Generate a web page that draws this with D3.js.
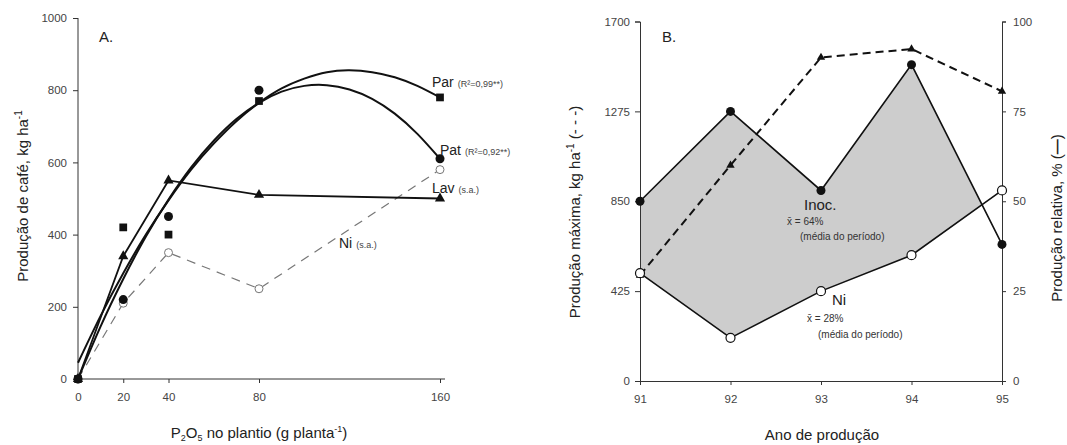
<!DOCTYPE html>
<html><head><meta charset="utf-8">
<script src="https://cdn.jsdelivr.net/npm/d3@7"></script>
<style>
body{margin:0;background:#fff;}
svg{display:block;font-family:"Liberation Sans",Arial,sans-serif;}
.tick text{fill:#444;font-size:11.5px;}
.domain,.tick line{stroke:#333;}
</style></head>
<body><svg id="c" width="1067" height="445"></svg>
<script>
// ---------- Panel A data ----------
const doses = [0, 20, 40, 80, 160];
const parObs = [0, 420, 400, 770, 780];
const patObs = [0, 220, 450, 800, 610];
const lavObs = [0, 340, 550, 510, 500];
const niObs  = [0, 210, 350, 250, 580];
// fitted curves
const fitX   = [0, 10, 20, 30, 40, 50, 60, 70, 80, 90, 100, 110, 120, 130, 140, 150, 160];
const parFit = [45, 175, 293, 400, 495, 580, 652, 714, 765, 805, 832, 850, 855, 850, 836, 812, 780];
const patFit = [0, 146, 277, 395, 497, 586, 660, 720, 765, 796, 812, 814, 802, 776, 735, 679, 610];
const xTicksA = [0, 20, 40, 80, 160];
const yTicksA = [0, 200, 400, 600, 800, 1000];

// ---------- Panel B data ----------
const years   = [91, 92, 93, 94, 95];
const prodMax = [500, 1020, 1530, 1570, 1370]; // kg/ha, left axis (dashed)
const inocRel = [50, 75, 53, 88, 38];          // %, right axis
const niRel   = [30, 12, 25, 35, 53];          // %, right axis
const yTicksBL = [0, 425, 850, 1275, 1700];
const yTicksBR = [0, 25, 50, 75, 100];

const svg = d3.select("#c");
const fmt = d3.format("d");

// ================= Panel A =================
const xA = d3.scaleLinear().domain([0, 160]).range([78, 440]);
const yA = d3.scaleLinear().domain([0, 1000]).range([379, 18]);
const gA = svg.append("g");

gA.append("g").attr("transform", "translate(0,379)")
  .call(d3.axisBottom(xA).tickValues(xTicksA).tickFormat(fmt).tickSize(4).tickPadding(10))
  .call(g => g.select(".domain").attr("d", "M78,0H445"));
gA.append("g").attr("transform", "translate(78,0)")
  .call(d3.axisLeft(yA).tickValues(yTicksA).tickFormat(fmt).tickSize(5).tickPadding(6))
  .call(g => g.select(".domain").attr("d", "M0,18V379"));

const lineA = d3.line().x(d => xA(d[0])).y(d => yA(d[1]));
const curveA = d3.line().x(d => xA(d[0])).y(d => yA(d[1])).curve(d3.curveNatural);

// Ni dashed
gA.append("path").attr("d", lineA(doses.map((d, i) => [d, niObs[i]])))
  .attr("fill", "none").attr("stroke", "#777").attr("stroke-width", 1.2).attr("stroke-dasharray", "9,7");
// Lav polyline
gA.append("path").attr("d", lineA(doses.map((d, i) => [d, lavObs[i]])))
  .attr("fill", "none").attr("stroke", "#111").attr("stroke-width", 1.8);
// fitted curves
gA.append("path").attr("d", curveA(fitX.map((d, i) => [d, parFit[i]])))
  .attr("fill", "none").attr("stroke", "#111").attr("stroke-width", 2);
gA.append("path").attr("d", curveA(fitX.map((d, i) => [d, patFit[i]])))
  .attr("fill", "none").attr("stroke", "#111").attr("stroke-width", 2);

// markers
const sq = d3.symbol().type(d3.symbolSquare).size(60);
const tri = d3.symbol().type(d3.symbolTriangle).size(45);
gA.selectAll(".ni").data(doses).join("circle")
  .attr("cx", d => xA(d)).attr("cy", (d, i) => yA(niObs[i])).attr("r", 4)
  .attr("fill", "#fff").attr("stroke", "#777").attr("stroke-width", 1);
gA.selectAll(".pat").data(doses).join("circle")
  .attr("cx", d => xA(d)).attr("cy", (d, i) => yA(patObs[i])).attr("r", 4.5)
  .attr("fill", "#111");
gA.selectAll(".par").data(doses).join("path")
  .attr("d", sq).attr("transform", (d, i) => `translate(${xA(d)},${yA(parObs[i])})`).attr("fill", "#111");
gA.selectAll(".lav").data(doses).join("path")
  .attr("d", tri).attr("transform", (d, i) => `translate(${xA(d)},${yA(lavObs[i])})`).attr("fill", "#111");

// labels A
gA.append("text").attr("x", 99).attr("y", 42).attr("font-size", 15).attr("fill", "#222").text("A.");
function lab(g, x, y, main, sub) {
  const t = g.append("text").attr("x", x).attr("y", y).attr("fill", "#222");
  t.append("tspan").attr("font-size", 14).text(main);
  t.append("tspan").attr("font-size", 9).attr("dx", 4).attr("fill", "#444").text(sub);
}
lab(gA, 432, 87, "Par", "(R²=0,99**)");
lab(gA, 440, 155, "Pat", "(R²=0,92**)");
lab(gA, 432, 193, "Lav", "(s.a.)");
lab(gA, 339, 248, "Ni", "(s.a.)");

// axis titles A
const tyA = gA.append("text").attr("transform", "translate(28,196) rotate(-90)")
  .attr("text-anchor", "middle").attr("font-size", 15).attr("fill", "#222");
tyA.append("tspan").text("Produção de café, kg ha");
tyA.append("tspan").attr("font-size", 10).attr("dy", -6).text("-1");
const txA = gA.append("text").attr("x", 259).attr("y", 438)
  .attr("text-anchor", "middle").attr("font-size", 15).attr("fill", "#222");
txA.append("tspan").text("P");
txA.append("tspan").attr("font-size", 9).attr("dy", 3).text("2");
txA.append("tspan").attr("dy", -3).text("O");
txA.append("tspan").attr("font-size", 9).attr("dy", 3).text("5");
txA.append("tspan").attr("dy", -3).text(" no plantio (g planta");
txA.append("tspan").attr("font-size", 9).attr("dy", -6).text("-1");
txA.append("tspan").attr("dy", 6).text(")");

// ================= Panel B =================
const xB = d3.scaleLinear().domain([91, 95]).range([640, 1002]);
const yBL = d3.scaleLinear().domain([0, 1700]).range([381, 21.5]);
const yBR = d3.scaleLinear().domain([0, 100]).range([381, 21.5]);
const gB = svg.append("g");

// shaded area between Inoc and Ni (only where Inoc above Ni)
const defs = svg.append("defs");
defs.append("clipPath").attr("id", "aboveNi").append("path")
  .attr("d", d3.area().x((d, i) => xB(years[i])).y0(0).y1((d, i) => yBR(niRel[i]))(years));
gB.append("path").attr("clip-path", "url(#aboveNi)")
  .attr("d", d3.area().x((d, i) => xB(years[i])).y0(yBR(0)).y1((d, i) => yBR(inocRel[i]))(years))
  .attr("fill", "#cdcdcd");

gB.append("g").attr("transform", "translate(0,381)")
  .call(d3.axisBottom(xB).tickValues(years).tickFormat(fmt).tickSize(4).tickPadding(10));
gB.append("g").attr("transform", "translate(640,0)")
  .call(d3.axisLeft(yBL).tickValues(yTicksBL).tickFormat(fmt).tickSize(5).tickPadding(5));
gB.append("g").attr("transform", "translate(1002,0)")
  .call(d3.axisRight(yBR).tickValues(yTicksBR).tickFormat(fmt).tickSize(4).tickPadding(7));

const lineBL = d3.line().x((d, i) => xB(years[i])).y(d => yBL(d));
const lineBR = d3.line().x((d, i) => xB(years[i])).y(d => yBR(d));

gB.append("path").attr("d", lineBL(prodMax)).attr("fill", "none")
  .attr("stroke", "#111").attr("stroke-width", 2).attr("stroke-dasharray", "8,5");
gB.append("path").attr("d", lineBR(inocRel)).attr("fill", "none")
  .attr("stroke", "#111").attr("stroke-width", 1.6);
gB.append("path").attr("d", lineBR(niRel)).attr("fill", "none")
  .attr("stroke", "#111").attr("stroke-width", 1.6);

const triB = d3.symbol().type(d3.symbolTriangle).size(30);
gB.selectAll(".tb").data(prodMax).join("path")
  .attr("d", triB).attr("transform", (d, i) => `translate(${xB(years[i])},${yBL(d)})`).attr("fill", "#111");
gB.selectAll(".ib").data(inocRel).join("circle")
  .attr("cx", (d, i) => xB(years[i])).attr("cy", d => yBR(d)).attr("r", 4.5).attr("fill", "#111");
gB.selectAll(".nb").data(niRel).join("circle")
  .attr("cx", (d, i) => xB(years[i])).attr("cy", d => yBR(d)).attr("r", 4.5)
  .attr("fill", "#fff").attr("stroke", "#111").attr("stroke-width", 1.2);

// labels B
gB.append("text").attr("x", 662).attr("y", 42).attr("font-size", 15).attr("fill", "#222").text("B.");
gB.append("text").attr("x", 804).attr("y", 210).attr("font-size", 15).attr("fill", "#222").text("Inoc.");
gB.append("text").attr("x", 787).attr("y", 225).attr("font-size", 10).attr("fill", "#333").text("x̄ = 64%");
gB.append("text").attr("x", 800).attr("y", 240).attr("font-size", 10).attr("fill", "#333").text("(média do período)");
gB.append("text").attr("x", 832).attr("y", 305).attr("font-size", 15).attr("fill", "#222").text("Ni");
gB.append("text").attr("x", 807).attr("y", 322).attr("font-size", 10).attr("fill", "#333").text("x̄ = 28%");
gB.append("text").attr("x", 818).attr("y", 338).attr("font-size", 10).attr("fill", "#333").text("(média do período)");

// axis titles B
const tyBL = gB.append("text").attr("transform", "translate(580,212) rotate(-90)")
  .attr("text-anchor", "middle").attr("font-size", 15).attr("fill", "#222");
tyBL.append("tspan").text("Produção máxima, kg ha");
tyBL.append("tspan").attr("font-size", 10).attr("dy", -6).text("-1");
tyBL.append("tspan").attr("dy", 6).text(" (- - -)");
const tyBR = gB.append("text").attr("transform", "translate(1062,218) rotate(-90)")
  .attr("text-anchor", "middle").attr("font-size", 15).attr("fill", "#222");
tyBR.append("tspan").text("Produção relativa, % (");
tyBR.append("tspan").attr("font-weight", "bold").text("—");
tyBR.append("tspan").text(")");
gB.append("text").attr("x", 822).attr("y", 440).attr("text-anchor", "middle")
  .attr("font-size", 15).attr("fill", "#222").text("Ano de produção");
</script></body></html>
